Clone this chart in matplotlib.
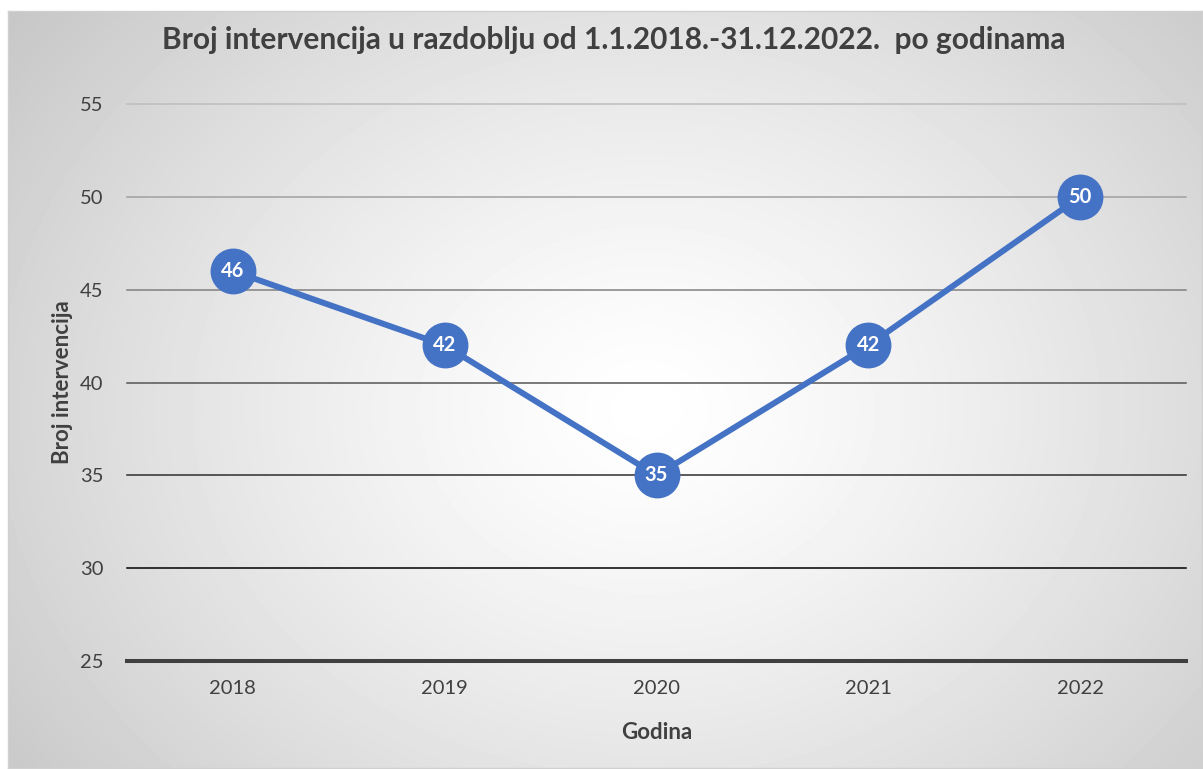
import numpy as np
import matplotlib
matplotlib.use("Agg")
import matplotlib.pyplot as plt

plt.rcParams["font.family"] = ["Lato", "DejaVu Sans"]

# podaci
godine = ["2018", "2019", "2020", "2021", "2022"]
intervencije = [46, 42, 35, 42, 50]
y_ticks = [25, 30, 35, 40, 45, 50, 55]
grid_boje = ["#404040", "#000000", "#2e2e2e", "#555555", "#808080", "#a0a0a0", "#bdbdbd"]

W, H = 1203, 769
fig = plt.figure(figsize=(W / 100, H / 100), dpi=100)
fig.patch.set_facecolor("white")

# pozadina s radijalnim gradijentom (okvir grafikona)
fx0, fy0, fx1, fy1 = 8, 11, 1202, 768
bg = fig.add_axes([fx0 / W, 1 - fy1 / H, (fx1 - fx0) / W, (fy1 - fy0) / H])
yy, xx = np.mgrid[0:200, 0:300]
cx, cy = 160, 105
r = np.sqrt(((xx - cx) / 165.0) ** 2 + ((yy - cy) / 140.0) ** 2)
val = 1.0 - 0.24 * np.clip(r, 0, 1.3) ** 1.3 / 1.3 ** 1.3
bg.imshow(val, cmap="gray", vmin=0, vmax=1, aspect="auto", interpolation="bilinear")
bg.set_xticks([]); bg.set_yticks([])
for s in bg.spines.values():
    s.set_color("#d0d0d0")
    s.set_linewidth(1)

ax = fig.add_axes([127 / W, 1 - 661 / H, 1059 / W, 557 / H])
ax.patch.set_alpha(0)
x = np.arange(len(godine))

for t, c in zip(y_ticks, grid_boje):
    lw = 2.9 if t == y_ticks[0] else 1.1
    ax.axhline(t, color=c, lw=lw, zorder=1, clip_on=False)

ax.plot(x, intervencije, color="#4472C4", lw=4.3, marker="o", ms=32,
        markerfacecolor="#4472C4", markeredgecolor="#4472C4", zorder=3,
        solid_capstyle="round")
for xi, v in zip(x, intervencije):
    ax.text(xi, v, str(v), color="white", fontsize=14.5, fontweight="bold",
            ha="center", va="center", zorder=4)

ax.set_xlim(-0.5, len(godine) - 0.5)
ax.set_ylim(25, 55)
ax.set_xticks(x)
ax.set_xticklabels(godine)
ax.set_yticks(y_ticks)
ax.tick_params(length=0, labelsize=14.5, labelcolor="#404040")
ax.tick_params(axis="y", pad=17)
ax.tick_params(axis="x", pad=14)
for s in ax.spines.values():
    s.set_visible(False)

ax.set_xlabel("Godina", fontsize=16, fontweight="bold", color="#404040", labelpad=18)
ax.set_ylabel("Broj intervencija", fontsize=16, fontweight="bold", color="#404040", labelpad=5)

fig.text(614 / W, 1 - 40 / H, "Broj intervencija u razdoblju od 1.1.2018.-31.12.2022.  po godinama",
         ha="center", va="center", fontsize=21.5, fontweight="bold", color="#404040")

plt.savefig("out.png", dpi=100)
